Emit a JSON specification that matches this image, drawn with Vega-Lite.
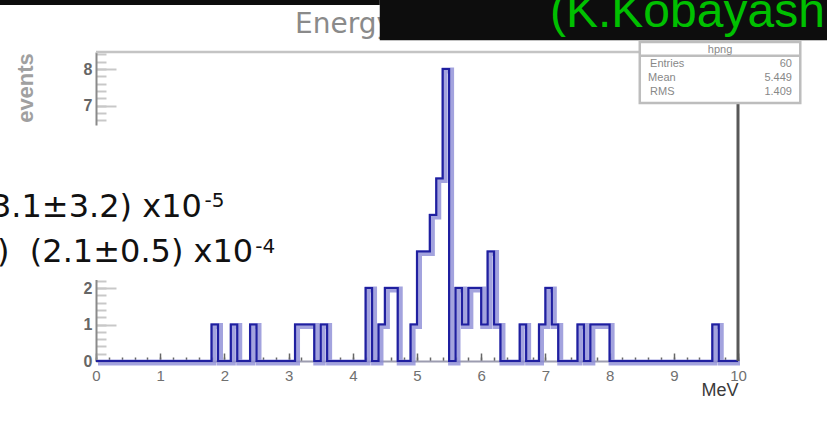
{
  "$schema": "https://vega.github.io/schema/vega-lite/v6.json",
  "width": 642,
  "height": 309,
  "autosize": {"type": "none"},
  "padding": {"left": 96, "top": 52, "right": 89, "bottom": 62},
  "background": "white",
  "config": {"view": {"stroke": null}, "font": "Liberation Sans"},
  "datasets": {
    "hist": [
      {"lo": 0, "n": 0}, {"lo": 1.8, "n": 1}, {"lo": 1.9, "n": 0},
      {"lo": 2.1, "n": 1}, {"lo": 2.2, "n": 0},
      {"lo": 2.4, "n": 1}, {"lo": 2.5, "n": 0},
      {"lo": 3.1, "n": 1}, {"lo": 3.2, "n": 1}, {"lo": 3.3, "n": 1}, {"lo": 3.4, "n": 0}, {"lo": 3.5, "n": 1}, {"lo": 3.6, "n": 0},
      {"lo": 4.2, "n": 2}, {"lo": 4.3, "n": 0},
      {"lo": 4.4, "n": 1}, {"lo": 4.5, "n": 2}, {"lo": 4.6, "n": 2}, {"lo": 4.7, "n": 0},
      {"lo": 4.9, "n": 1}, {"lo": 5.0, "n": 3}, {"lo": 5.1, "n": 3}, {"lo": 5.2, "n": 4}, {"lo": 5.3, "n": 5}, {"lo": 5.4, "n": 8}, {"lo": 5.5, "n": 0},
      {"lo": 5.6, "n": 2}, {"lo": 5.7, "n": 1}, {"lo": 5.8, "n": 2}, {"lo": 5.9, "n": 2}, {"lo": 6.0, "n": 1}, {"lo": 6.1, "n": 3}, {"lo": 6.2, "n": 1}, {"lo": 6.3, "n": 0},
      {"lo": 6.6, "n": 1}, {"lo": 6.7, "n": 0},
      {"lo": 6.9, "n": 1}, {"lo": 7.0, "n": 2}, {"lo": 7.1, "n": 1}, {"lo": 7.2, "n": 0},
      {"lo": 7.5, "n": 1}, {"lo": 7.6, "n": 0}, {"lo": 7.7, "n": 1}, {"lo": 7.8, "n": 1}, {"lo": 7.9, "n": 1}, {"lo": 8.0, "n": 0},
      {"lo": 9.6, "n": 1}, {"lo": 9.7, "n": 0},
      {"lo": 10, "n": 0}
    ]
  },
  "resolve": {"axis": {"x": "independent", "y": "independent"}},
  "layer": [
    {
      "data": {"name": "hist"},
      "mark": {"type": "line", "interpolate": "step-after", "stroke": "#8c8cd6", "strokeWidth": 6, "opacity": 0.8, "xOffset": 2, "yOffset": 1.5, "strokeJoin": "miter"},
      "encoding": {
        "x": {"field": "lo", "type": "quantitative", "scale": {"domain": [0, 10], "nice": false, "zero": false},
          "axis": {"orient": "bottom", "values": [0,0.2,0.4,0.6,0.8,1,1.2,1.4,1.6,1.8,2,2.2,2.4,2.6,2.8,3,3.2,3.4,3.6,3.8,4,4.2,4.4,4.6,4.8,5,5.2,5.4,5.6,5.8,6,6.2,6.4,6.6,6.8,7,7.2,7.4,7.6,7.8,8,8.2,8.4,8.6,8.8,9,9.2,9.4,9.6,9.8,10],
            "tickSize": -4, "tickColor": "#666666", "tickWidth": 1.5, "labels": false, "domain": false, "grid": false, "title": null}},
        "y": {"field": "n", "type": "quantitative", "scale": {"domain": [0, 8.466], "nice": false, "zero": true},
          "axis": {"orient": "left", "values": [0,0.2,0.4,0.6,0.8,1,1.2,1.4,1.6,1.8,2,2.2,2.4,2.6,2.8,3,3.2,3.4,3.6,3.8,4,4.2,4.4,4.6,4.8,5,5.2,5.4,5.6,5.8,6,6.2,6.4,6.6,6.8,7,7.2,7.4,7.6,7.8,8,8.2,8.4],
            "tickSize": -10, "tickColor": "#c8c8c8", "tickWidth": 2, "labels": false, "domain": false, "grid": false, "title": null}}
      }
    },
    {
      "data": {"name": "hist"},
      "mark": {"type": "line", "interpolate": "step-after", "stroke": "#1f1fa0", "strokeWidth": 2.2, "strokeJoin": "miter"},
      "encoding": {
        "x": {"field": "lo", "type": "quantitative",
          "axis": {"orient": "bottom", "values": [0,1,2,3,4,5,6,7,8,9,10], "tickSize": -8, "tickColor": "#666666", "tickWidth": 1.5,
            "labelPadding": 15, "labelFontSize": 15, "labelColor": "#707070", "labelFlush": false, "labelOverlap": false,
            "domainColor": "#9c9cb0", "domainWidth": 2, "grid": false,
            "title": "MeV", "titleAnchor": "end", "titleFontSize": 18, "titleFontWeight": "normal", "titleColor": "#3a3a3a", "titlePadding": -2}},
        "y": {"field": "n", "type": "quantitative",
          "axis": {"orient": "left", "values": [0,1,2,7,8], "tickSize": -20, "tickColor": "#c8c8c8", "tickWidth": 2,
            "labelPadding": 24, "labelFontSize": 16, "labelColor": "#666666", "labelFontWeight": "bold",
            "domainColor": "#8a8a8a", "domainWidth": 2, "grid": false, "title": null}}
      }
    },
    {
      "data": {"values": [{}]},
      "mark": {"type": "rule", "stroke": "#c4c4c4", "strokeWidth": 2.5},
      "encoding": {"y": {"datum": 8.466, "type": "quantitative", "axis": null}}
    },
    {
      "data": {"values": [{}]},
      "mark": {"type": "rule", "stroke": "#585858", "strokeWidth": 3},
      "encoding": {"x": {"datum": 10, "type": "quantitative", "axis": null}}
    },
    {
      "data": {"values": [{}]},
      "mark": {"type": "rect", "fill": "white"},
      "encoding": {
        "x": {"datum": -1.6, "type": "quantitative", "axis": null}, "x2": {"datum": 3.1},
        "y": {"datum": 2.22, "type": "quantitative", "axis": null}, "y2": {"datum": 6.45}
      }
    },
    {
      "data": {"values": [{}]},
      "mark": {"type": "text", "text": "3.1±3.2) x10", "font": "DejaVu Sans", "fontSize": 32, "fill": "#111111", "align": "left", "baseline": "alphabetic"},
      "encoding": {"x": {"datum": -1.636, "type": "quantitative", "axis": null}, "y": {"datum": 3.945, "type": "quantitative", "axis": null}}
    },
    {
      "data": {"values": [{}]},
      "mark": {"type": "text", "text": "-5", "font": "DejaVu Sans", "fontSize": 20, "fill": "#111111", "align": "left", "baseline": "alphabetic"},
      "encoding": {"x": {"datum": 1.69, "type": "quantitative", "axis": null}, "y": {"datum": 4.219, "type": "quantitative", "axis": null}}
    },
    {
      "data": {"values": [{}]},
      "mark": {"type": "text", "text": ")\u00a0\u00a0(2.1±0.5)\u00a0x10", "font": "DejaVu Sans", "fontSize": 32, "fill": "#111111", "align": "left", "baseline": "alphabetic"},
      "encoding": {"x": {"datum": -1.542, "type": "quantitative", "axis": null}, "y": {"datum": 2.712, "type": "quantitative", "axis": null}}
    },
    {
      "data": {"values": [{}]},
      "mark": {"type": "text", "text": "-4", "font": "DejaVu Sans", "fontSize": 20, "fill": "#111111", "align": "left", "baseline": "alphabetic"},
      "encoding": {"x": {"datum": 2.48, "type": "quantitative", "axis": null}, "y": {"datum": 2.959, "type": "quantitative", "axis": null}}
    },
    {
      "data": {"values": [{}]},
      "mark": {"type": "text", "text": "events", "fontSize": 22, "fill": "#a0a0a0", "angle": 270, "align": "center", "baseline": "middle", "fontWeight": "bold"},
      "encoding": {"x": {"datum": -1.09, "type": "quantitative", "axis": null}, "y": {"datum": 7.48, "type": "quantitative", "axis": null}}
    },
    {
      "data": {"values": [{}]},
      "mark": {"type": "text", "text": "Energy spectrum", "fontSize": 28, "font": "DejaVu Sans", "fill": "#8a8a8a", "align": "left", "baseline": "alphabetic"},
      "encoding": {"x": {"datum": 3.1, "type": "quantitative", "axis": null}, "y": {"datum": 8.986, "type": "quantitative", "axis": null}}
    },
    {
      "data": {"values": [{}]},
      "mark": {"type": "rect", "fill": "#0d0d0d"},
      "encoding": {
        "x": {"datum": 4.42, "type": "quantitative", "axis": null}, "x2": {"datum": 12},
        "y": {"datum": 8.79, "type": "quantitative", "axis": null}, "y2": {"datum": 10.4}
      }
    },
    {
      "data": {"values": [{}]},
      "mark": {"type": "rect", "fill": "#0d0d0d"},
      "encoding": {
        "x": {"datum": -2, "type": "quantitative", "axis": null}, "x2": {"datum": 4.42},
        "y": {"datum": 9.755, "type": "quantitative", "axis": null}, "y2": {"datum": 10.4}
      }
    },
    {
      "data": {"values": [{}]},
      "mark": {"type": "text", "text": "(K.Kobayashi)", "fontSize": 48, "fill": "#00c000", "align": "left", "baseline": "alphabetic"},
      "encoding": {"x": {"datum": 7.072, "type": "quantitative", "axis": null}, "y": {"datum": 9.151, "type": "quantitative", "axis": null}}
    },
    {
      "data": {"values": [{}]},
      "mark": {"type": "rect", "fill": "white", "stroke": "#bdbdbd", "strokeWidth": 2.5},
      "encoding": {
        "x": {"datum": 8.47, "type": "quantitative", "axis": null}, "x2": {"datum": 10.97},
        "y": {"datum": 7.07, "type": "quantitative", "axis": null}, "y2": {"datum": 8.74}
      }
    },
    {
      "data": {"values": [{}]},
      "mark": {"type": "rule", "stroke": "#bdbdbd", "strokeWidth": 2.5},
      "encoding": {
        "x": {"datum": 8.47, "type": "quantitative", "axis": null}, "x2": {"datum": 10.97},
        "y": {"datum": 8.36, "type": "quantitative", "axis": null}
      }
    },
    {
      "data": {"values": [{}]},
      "mark": {"type": "text", "text": "hpng", "fontSize": 11, "fill": "#888888", "align": "center", "baseline": "alphabetic"},
      "encoding": {"x": {"datum": 9.72, "type": "quantitative", "axis": null}, "y": {"datum": 8.44, "type": "quantitative", "axis": null}}
    },
    {
      "data": {"values": [{}]},
      "mark": {"type": "text", "text": "Entries", "fontSize": 11, "fill": "#888888", "align": "left", "baseline": "alphabetic"},
      "encoding": {"x": {"datum": 8.63, "type": "quantitative", "axis": null}, "y": {"datum": 8.05, "type": "quantitative", "axis": null}}
    },
    {
      "data": {"values": [{}]},
      "mark": {"type": "text", "text": "Mean", "fontSize": 11, "fill": "#888888", "align": "left", "baseline": "alphabetic"},
      "encoding": {"x": {"datum": 8.6, "type": "quantitative", "axis": null}, "y": {"datum": 7.67, "type": "quantitative", "axis": null}}
    },
    {
      "data": {"values": [{}]},
      "mark": {"type": "text", "text": "RMS", "fontSize": 11, "fill": "#888888", "align": "left", "baseline": "alphabetic"},
      "encoding": {"x": {"datum": 8.63, "type": "quantitative", "axis": null}, "y": {"datum": 7.29, "type": "quantitative", "axis": null}}
    },
    {
      "data": {"values": [{}]},
      "mark": {"type": "text", "text": "60", "fontSize": 11, "fill": "#888888", "align": "right", "baseline": "alphabetic"},
      "encoding": {"x": {"datum": 10.84, "type": "quantitative", "axis": null}, "y": {"datum": 8.05, "type": "quantitative", "axis": null}}
    },
    {
      "data": {"values": [{}]},
      "mark": {"type": "text", "text": "5.449", "fontSize": 11, "fill": "#888888", "align": "right", "baseline": "alphabetic"},
      "encoding": {"x": {"datum": 10.84, "type": "quantitative", "axis": null}, "y": {"datum": 7.67, "type": "quantitative", "axis": null}}
    },
    {
      "data": {"values": [{}]},
      "mark": {"type": "text", "text": "1.409", "fontSize": 11, "fill": "#888888", "align": "right", "baseline": "alphabetic"},
      "encoding": {"x": {"datum": 10.84, "type": "quantitative", "axis": null}, "y": {"datum": 7.29, "type": "quantitative", "axis": null}}
    }
  ]
}
